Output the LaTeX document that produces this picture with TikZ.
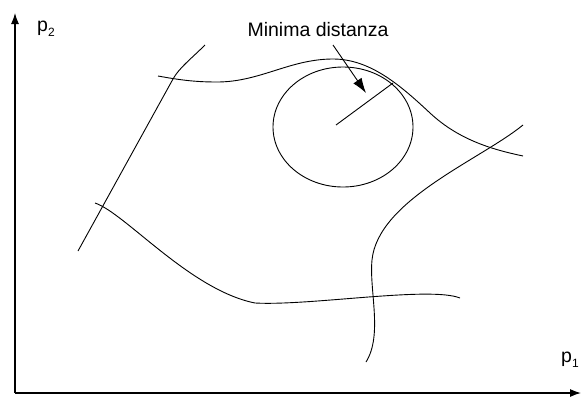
\documentclass[tikz,border=0pt]{standalone}
\usepackage{fontspec}
\setmainfont{Liberation Sans}
\usetikzlibrary{arrows.meta}

\tikzset{
  curve/.style={black, line width=0.9pt},
  axis/.style={black, line width=1.2pt, -{Latex[length=11pt,width=8pt]}},
  lbl/.style={font=\fontsize{19.5}{22}\selectfont, inner sep=0pt}
}

\begin{document}
\begin{tikzpicture}[x=1pt, y=-1pt]
\useasboundingbox (0,0) rectangle (581,397);
% axes
\coordinate (o) at (15,393);
\coordinate (ytop) at (15,13);
\coordinate (xend) at (581,393);
\draw[axis] (o) -- (ytop);
\draw[axis] (o) -- (xend);
\node[lbl, anchor=base west] (p2) at (37,31) {p\raisebox{-5pt}{\fontsize{12}{12}\selectfont 2}};
\node[lbl, anchor=base west] (p1) at (561,362) {p\raisebox{-5pt}{\fontsize{12}{12}\selectfont 1}};
% curves
\draw[curve] (78,251) -- (173,79) .. controls (179,68) and (192,58) .. (205,45);
\draw[curve] (158,76) .. controls (180,80) and (195,82) .. (217,82)
  .. controls (260,82) and (290,59) .. (333,59)
  .. controls (370,59) and (400,85) .. (430,113)
  .. controls (460,141) and (495,150) .. (523,156);
\draw[curve] (95,203) .. controls (125,213) and (190,290) .. (255,303)
  .. controls (310,306) and (430,286) .. (460,298);
\draw[curve] (523,125) .. controls (480,160) and (378,200) .. (372,260)
  .. controls (369,290) and (383,335) .. (366,362);
% circle and distance
\draw[curve] (343,127) ellipse [x radius=70, y radius=60];
\coordinate (c) at (336,125);
\coordinate (t) at (393,83);
\draw[curve] (c) -- (t);
\node[lbl, anchor=base] (md) at (318,36) {Minima distanza};
\coordinate (tip) at (366,93);
\draw[curve, -{Latex[length=15pt,width=10pt]}] (333,45) -- (tip);
\end{tikzpicture}
\end{document}
